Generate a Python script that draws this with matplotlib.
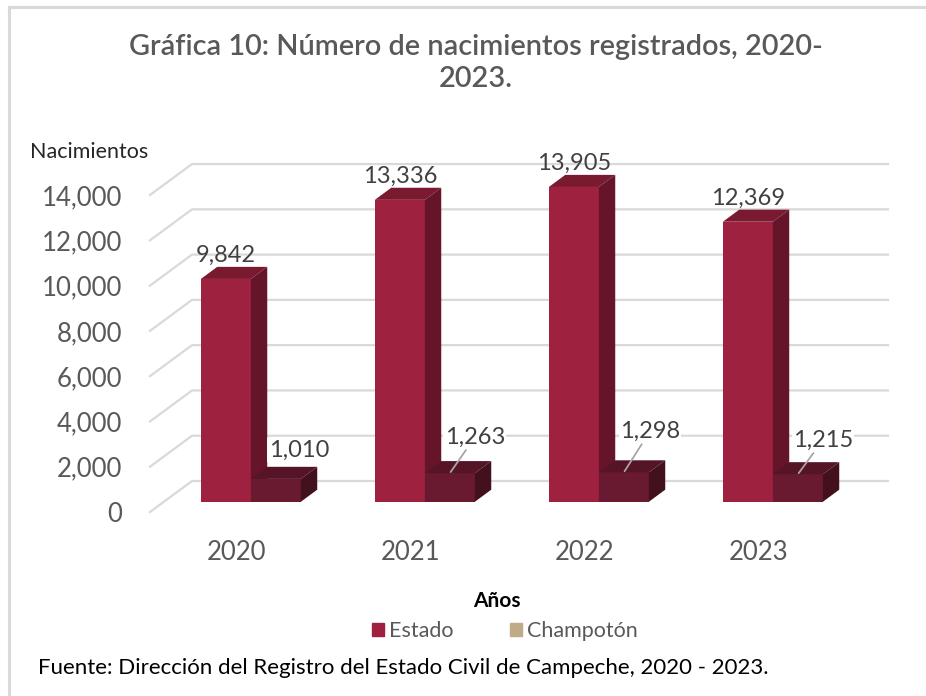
import matplotlib.pyplot as plt
import numpy as np
from matplotlib.patches import Polygon, Patch
from matplotlib.lines import Line2D

plt.rcParams['font.family'] = ['Lato', 'DejaVu Sans']

years = ['2020', '2021', '2022', '2023']
estado = [9842, 13336, 13905, 12369]
champoton = [1010, 1263, 1298, 1215]
yticks = [0, 2000, 4000, 6000, 8000, 10000, 12000, 14000]

# label offsets (pixels) for the Champotón values, from the front top edge
champ_offsets = [(23, 29), (25, 36), (26, 41), (25, 34)]
champ_leader = [False, True, True, True]

W, H = 926, 696
fig = plt.figure(figsize=(W / 100, H / 100), dpi=100)

# pixel layout of the plot area (front plane)
px_left, px_right, px_top, px_bottom = 150, 890, 130, 512
px_per_cat = 174.0
px_per_k = 22.64  # pixels per 1000
ax = fig.add_axes([px_left / W, 1 - px_bottom / H,
                   (px_right - px_left) / W, (px_bottom - px_top) / H])
ax.set_xlim(-0.5, -0.5 + (px_right - px_left) / px_per_cat)
ax.set_ylim(0, (px_bottom - px_top) / px_per_k * 1000)

# depth of the pseudo 3D box
DX = 42 / px_per_cat
DY = 31 / px_per_k * 1000
f0, f1 = 0.33, 0.72
bw = 50 / px_per_cat

grid_c = '#d9d9d9'
for v in yticks:
    ax.plot([-0.5, -0.5 + DX, 3.5 + DX], [v, v + DY, v + DY],
            color=grid_c, lw=1.6, zorder=1, clip_on=False)

idx = np.arange(len(years))
series = [
    (estado, idx - bw, '#9e2140', '#661429', '#7a1a31'),
    (champoton, idx, '#6a1a30', '#43101e', '#561427'),
]
ddx, ddy = (f1 - f0) * DX, (f1 - f0) * DY
tops = []
for vals, xs, c_front, c_side, c_top in series:
    x0s = xs + f0 * DX
    ax.bar(x0s, vals, bw, bottom=f0 * DY, align='edge', color=c_front, zorder=3)
    t = []
    for x0, v in zip(x0s, vals):
        x1 = x0 + bw
        yb = f0 * DY
        yt = yb + v
        ax.add_patch(Polygon([(x0, yt), (x1, yt), (x1 + ddx, yt + ddy), (x0 + ddx, yt + ddy)],
                             closed=True, color=c_top, zorder=3, lw=0))
        ax.add_patch(Polygon([(x1, yb), (x1, yt), (x1 + ddx, yt + ddy), (x1 + ddx, yb + ddy)],
                             closed=True, color=c_side, zorder=3, lw=0))
        t.append((x0 + bw / 2, yt))
    tops.append(t)

lab_c = '#404040'
for (x, y), v in zip(tops[0], estado):
    ax.annotate(f'{v:,}', (x, y + ddy), xytext=(0, 5), textcoords='offset pixels',
                ha='center', va='baseline', fontsize=17, color=lab_c, zorder=5)

for (x, y), v, off, lead in zip(tops[1], champoton, champ_offsets, champ_leader):
    arrow = dict(arrowstyle='-', color='#a6a6a6', lw=1.3, shrinkA=1, shrinkB=1) if lead else None
    ax.annotate(f'{v:,}', (x, y), xytext=off, textcoords='offset pixels',
                ha='center', va='center', fontsize=17, color=lab_c, zorder=5,
                bbox=dict(boxstyle='square,pad=0.05', fc='white', ec='none'),
                arrowprops=arrow)

ax.set_yticks(yticks)
ax.set_yticklabels([f'{v:,}' for v in yticks], fontsize=18.5, color='#595959')
ax.set_xticks(idx)
ax.set_xticklabels(years, fontsize=18.5, color='#595959')
ax.tick_params(axis='y', length=0, pad=20)
ax.tick_params(axis='x', length=0, pad=20)
for s in ax.spines.values():
    s.set_visible(False)

fig.text(476 / W, 1 - 63 / H, 'Gráfica 10: Número de nacimientos registrados, 2020-\n2023.',
         ha='center', va='center', fontsize=20.8, color='#595959', fontweight='semibold',
         linespacing=1.25)
fig.text(30 / W, 1 - 152 / H, 'Nacimientos', ha='left', va='center', fontsize=15.5, color='#262626')
fig.text(497 / W, 1 - 601 / H, 'Años', ha='center', va='center', fontsize=15,
         color='#000000', fontweight='bold')

handles = [Patch(color='#9e2140', label='Estado'), Patch(color='#bfab88', label='Champotón')]
leg = fig.legend(handles=handles, loc='center', bbox_to_anchor=(505 / W, 1 - 631 / H), ncol=2,
                 frameon=False, fontsize=15.5, handlelength=0.55, handleheight=0.6,
                 handletextpad=0.25, columnspacing=2.6, labelcolor='#595959')

fig.text(38 / W, 1 - 668 / H,
         'Fuente: Dirección del Registro del Estado Civil de Campeche, 2020 - 2023.',
         ha='left', va='center', fontsize=16, color='#000000')

# outer frame (top and left edges visible)
fig.add_artist(Line2D([9 / W, 9 / W], [0, 1 - 7 / H], color='#d9d9d9', lw=2.2))
fig.add_artist(Line2D([9 / W, 1], [1 - 7 / H, 1 - 7 / H], color='#d9d9d9', lw=2.2))

fig.savefig('out.png', dpi=100)
